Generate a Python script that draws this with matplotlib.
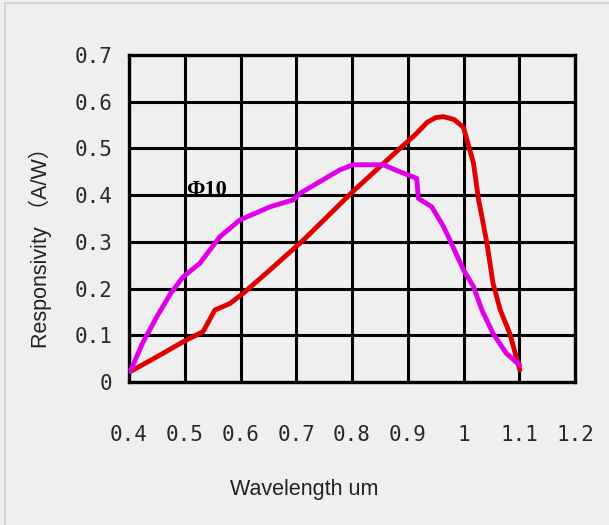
import matplotlib
matplotlib.use("Agg")
import matplotlib.pyplot as plt
from matplotlib.lines import Line2D

# red curve
red_x = [0.402, 0.45, 0.497, 0.533, 0.554, 0.581, 0.605, 0.653, 0.713, 0.754, 0.80,
         0.851, 0.886, 0.914, 0.935, 0.95, 0.964, 0.983, 1.0, 1.018, 1.027, 1.033,
         1.042, 1.053, 1.066, 1.083, 1.101]
red_y = [0.022, 0.054, 0.086, 0.108, 0.154, 0.168, 0.19, 0.24, 0.304, 0.352, 0.406,
         0.462, 0.500, 0.530, 0.556, 0.566, 0.568, 0.562, 0.545, 0.468, 0.39, 0.354,
         0.297, 0.211, 0.154, 0.104, 0.026]

# magenta curve
mag_x = [0.402, 0.425, 0.45, 0.475, 0.497, 0.527, 0.563, 0.599, 0.653, 0.695, 0.707,
         0.778, 0.802, 0.856, 0.886, 0.916, 0.919, 0.943, 0.964, 0.970, 1.0, 1.018,
         1.033, 1.053, 1.077, 1.101]
mag_y = [0.022, 0.085, 0.14, 0.19, 0.225, 0.254, 0.311, 0.347, 0.375, 0.39, 0.404,
         0.454, 0.465, 0.465, 0.450, 0.436, 0.393, 0.375, 0.333, 0.318, 0.24, 0.204,
         0.154, 0.104, 0.061, 0.036]

xticks = [0.4, 0.5, 0.6, 0.7, 0.8, 0.9, 1.0, 1.1, 1.2]
xtick_labels = ["0.4", "0.5", "0.6", "0.7", "0.8", "0.9", "1", "1.1", "1.2"]
yticks = [0, 0.1, 0.2, 0.3, 0.4, 0.5, 0.6, 0.7]
ytick_labels = ["0", "0.1", "0.2", "0.3", "0.4", "0.5", "0.6", "0.7"]

bg = "#efefef"
fig = plt.figure(figsize=(6.09, 5.25), dpi=100, facecolor=bg)
ax = fig.add_axes([129/609, 1-382/525, 446/609, 327/525], facecolor=bg)

ax.plot(red_x, red_y, color="#e00000", lw=3.5, solid_capstyle="round",
        solid_joinstyle="round", zorder=3)
ax.plot(mag_x, mag_y, color="#e000e8", lw=3.5, solid_capstyle="round",
        solid_joinstyle="round", zorder=3)

ax.set_xlim(0.4, 1.2)
ax.set_ylim(0, 0.7)
ax.set_xticks(xticks)
ax.set_xticklabels(xtick_labels, family="DejaVu Sans Mono", fontsize=15, color="#2a2a2a")
ax.set_yticks(yticks)
ax.set_yticklabels(ytick_labels, family="DejaVu Sans Mono", fontsize=15, color="#2a2a2a")
ax.tick_params(length=0, pad=12)
ax.tick_params(axis="x", pad=31)
ax.grid(True, color="black", lw=2.2)
ax.set_axisbelow(True)
for s in ax.spines.values():
    s.set_linewidth(2.4)

ax.text(0.503, 0.411, "Φ10", fontsize=16, fontweight="bold", family="Liberation Serif",
        va="center", ha="left", zorder=4)

fig.text(304/609, 1-490/525, "Wavelength um", family="Liberation Sans",
         fontsize=15.5, ha="center", va="center", color="#222222")
fig.text(40/609, 1-242/525, "Responsivity （A/W）", family=["Liberation Sans", "Noto Sans CJK SC"],
         fontsize=15.5, rotation=90, ha="center", va="center", color="#222222")

# light frame at top and left
fig.add_artist(Line2D([5/609, 1], [1-3/525, 1-3/525], color="#d0d0d0", lw=1.2))
fig.add_artist(Line2D([5/609, 5/609], [0, 1-3/525], color="#d0d0d0", lw=1.2))

fig.savefig("out.png", dpi=100, facecolor=bg)
